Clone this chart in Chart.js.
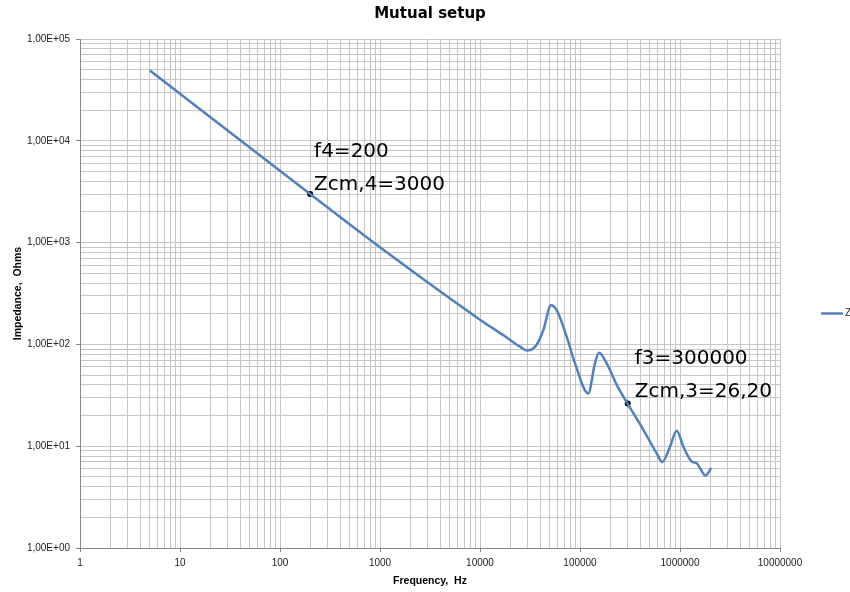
<!DOCTYPE html>
<html>
<head>
<meta charset="utf-8">
<script src="https://cdn.jsdelivr.net/npm/chart.js@4/dist/chart.umd.min.js"></script>
<style>
  html, body { margin: 0; padding: 0; background: #fff; }
</style>
</head>
<body>
<canvas id="chart" width="850" height="592"></canvas>
<script>
const chartTitle = 'Mutual setup';
const seriesName = 'Z';
const xTitle = 'Frequency,  Hz';
const yTitle = 'Impedance,  Ohms';

const xTickLabels = ['1', '10', '100', '1000', '10000', '100000', '1000000', '10000000'];
const yTickLabels = ['1,00E+00', '1,00E+01', '1,00E+02', '1,00E+03', '1,00E+04', '1,00E+05'];

const frequency = [5, 200, 1000, 10000, 17800, 25100, 29500, 34100, 38300, 43000, 51300, 58500, 73600,
  89100, 121000, 141000, 155000, 185000, 233000, 300000, 430000, 585000, 666000, 794000,
  927000, 1080000, 1310000, 1470000, 1580000, 1800000, 2050000];
const impedance = [49000, 3000, 900, 175, 120, 95, 87, 91, 106, 138, 243, 217, 119,
  65, 33, 65, 83, 65, 40, 26, 14.5, 8.5, 7.0, 9.9,
  14.2, 9.9, 7.06, 6.8, 6.1, 5.15, 6.1];

const markFreq = [200, 300000];
const markZ = [3000, 26.2];
const markText = [['f4=200', 'Zcm,4=3000'], ['f3=300000', 'Zcm,3=26,20']];

const LINE_COLOR = '#4f81bd';
const GRID_COLOR = '#c6c6c6';
const AXIS_COLOR = '#888888';

function isDecade(v) {
  const l = Math.log10(v);
  return Math.abs(l - Math.round(l)) < 1e-9;
}

function logTicks(min, max) {
  const ticks = [];
  for (let e = Math.round(Math.log10(min)); e <= Math.round(Math.log10(max)); e += 1) {
    for (let m = 1; m <= 9; m += 1) {
      const v = m * Math.pow(10, e);
      if (v <= max * 1.0000001) ticks.push({ value: v, major: m === 1 });
    }
  }
  return ticks;
}

function logAxis({ min, max, labels, title, tickPadding, titlePadding }) {
  return {
    type: 'logarithmic',
    min,
    max,
    afterBuildTicks(scale) {
      scale.ticks = logTicks(min, max);
    },
    grid: {
      color: GRID_COLOR,
      lineWidth: 1,
      tickLength: 4,
      tickColor: (ctx) => (ctx.tick && isDecade(ctx.tick.value) ? AXIS_COLOR : 'rgba(0,0,0,0)'),
    },
    border: { color: AXIS_COLOR, width: 1 },
    ticks: {
      autoSkip: false,
      maxRotation: 0,
      minRotation: 0,
      padding: tickPadding,
      color: '#222',
      font: { family: 'Liberation Sans', size: 10 },
      callback: (value) => (isDecade(value) ? labels[Math.round(Math.log10(value))] : ''),
    },
    title: {
      display: true,
      text: title,
      color: '#000',
      font: { family: 'Liberation Sans', size: 10.5, weight: 'bold' },
      padding: titlePadding,
    },
  };
}

const textOffset = [[4, -37], [7, -40]];
const LINE_GAP = 33;

const overlay = {
  id: 'overlay',
  afterDatasetsDraw(chart) {
    const { ctx, chartArea, scales } = chart;
    ctx.save();
    ctx.fillStyle = '#000';
    ctx.textBaseline = 'alphabetic';

    ctx.font = 'bold 15px "DejaVu Sans"';
    ctx.textAlign = 'center';
    ctx.fillText(chartTitle, (chartArea.left + chartArea.right) / 2, 18);

    ctx.font = '20px "DejaVu Sans"';
    ctx.textAlign = 'left';
    markText.forEach((lines, i) => {
      const px = scales.x.getPixelForValue(markFreq[i]);
      const py = scales.y.getPixelForValue(markZ[i]);
      lines.forEach((t, j) => {
        ctx.fillText(t, px + textOffset[i][0], py + textOffset[i][1] + j * LINE_GAP);
      });
    });

    // legend
    const ly = (chartArea.top + chartArea.bottom) / 2 + 20;
    ctx.strokeStyle = LINE_COLOR;
    ctx.lineWidth = 2.5;
    ctx.beginPath();
    ctx.moveTo(chartArea.right + 41, ly);
    ctx.lineTo(chartArea.right + 63, ly);
    ctx.stroke();
    ctx.font = '10px "Liberation Sans"';
    ctx.textBaseline = 'middle';
    ctx.fillStyle = '#222';
    ctx.fillText(seriesName, chartArea.right + 65, ly);
    ctx.restore();
  },
};

const xAxis = logAxis({
  min: 1, max: 1e7, labels: xTickLabels, title: xTitle,
  tickPadding: 5, titlePadding: { top: 0, bottom: 5 },
});
xAxis.afterFit = (scale) => { scale.height = 44; };

const yAxis = logAxis({
  min: 1, max: 1e5, labels: yTickLabels, title: yTitle,
  tickPadding: 6, titlePadding: { top: 12, bottom: 0 },
});
yAxis.afterFit = (scale) => { scale.width = 80; };

new Chart(document.getElementById('chart').getContext('2d'), {
  type: 'line',
  data: {
    datasets: [
      {
        label: seriesName,
        data: frequency.map((f, i) => ({ x: f, y: impedance[i] })),
        borderColor: LINE_COLOR,
        backgroundColor: LINE_COLOR,
        borderWidth: 2.5,
        pointRadius: 0,
        cubicInterpolationMode: 'monotone',
      },
      {
        label: 'marks',
        data: markFreq.map((f, i) => ({ x: f, y: markZ[i] })),
        showLine: false,
        pointRadius: 3,
        pointBackgroundColor: '#000',
        pointBorderColor: '#000',
        pointBorderWidth: 0,
      },
    ],
  },
  options: {
    responsive: false,
    animation: false,
    devicePixelRatio: 1,
    layout: { padding: { top: 39, right: 70, left: 0, bottom: 0 } },
    plugins: {
      legend: { display: false },
      tooltip: { enabled: false },
    },
    scales: { x: xAxis, y: yAxis },
  },
  plugins: [overlay],
});
</script>
</body>
</html>
